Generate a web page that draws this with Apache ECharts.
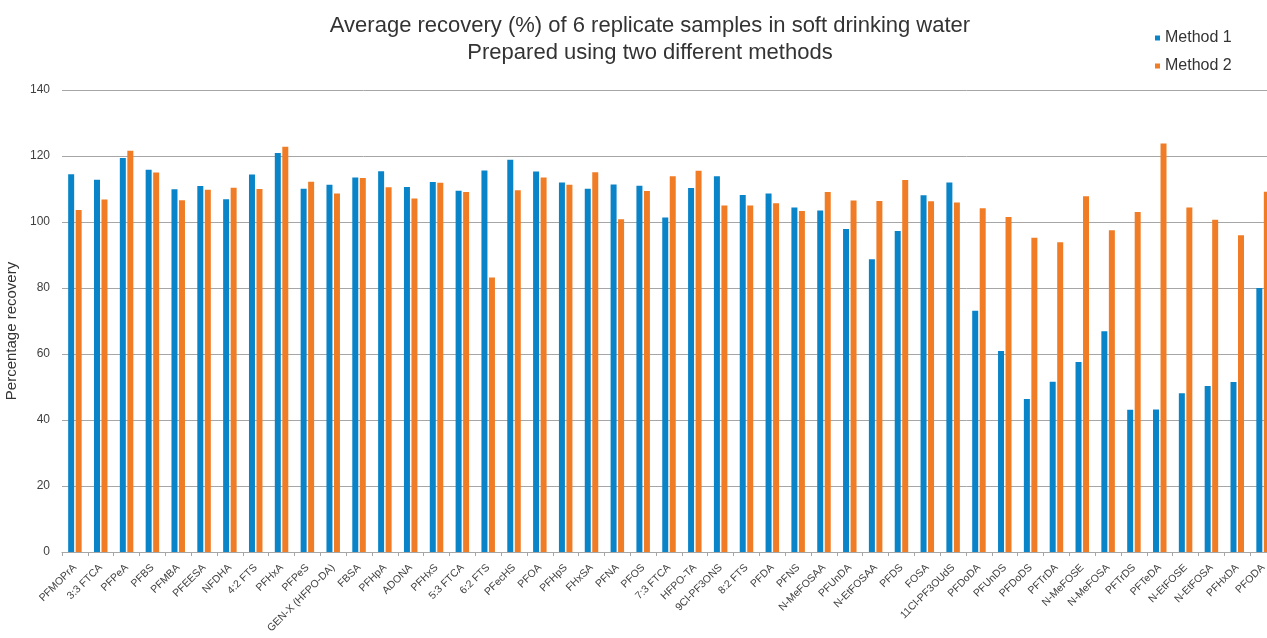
<!DOCTYPE html>
<html>
<head>
<meta charset="utf-8">
<script src="https://cdn.jsdelivr.net/npm/echarts@6/dist/echarts.min.js"></script>
<style>html,body{margin:0;padding:0;background:#fff;overflow:hidden;}#c{width:1267px;height:638px;}</style>
</head>
<body>
<div id="c"></div>
<script>
const categories = ["PFMOPrA","3:3 FTCA","PFPeA","PFBS","PFMBA","PFEESA","NFDHA","4:2 FTS","PFHxA","PFPeS","GEN-X (HFPO-DA)","FBSA","PFHpA","ADONA","PFHxS","5:3 FTCA","6:2 FTS","PFecHS","PFOA","PFHpS","FHxSA","PFNA","PFOS","7:3 FTCA","HFPO-TA","9Cl-PF3ONS","8:2 FTS","PFDA","PFNS","N-MeFOSAA","PFUnDA","N-EtFOSAA","PFDS","FOSA","11Cl-PF3OUdS","PFDoDA","PFUnDS","PFDoDS","PFTrDA","N-MeFOSE","N-MeFOSA","PFTrDS","PFTeDA","N-EtFOSE","N-EtFOSA","PFHxDA","PFODA"];
const method1 = [114.5,112.8,119.4,115.8,109.9,110.9,106.9,114.4,120.9,110.1,111.3,113.5,115.4,110.6,112.1,109.5,115.6,118.9,115.3,112.0,110.1,111.4,111.0,101.4,110.3,113.9,108.2,108.6,104.4,103.5,97.9,88.7,97.3,108.1,112.0,73.1,60.9,46.4,51.6,57.6,66.9,43.1,43.2,48.1,50.3,51.5,80.0];
const method2 = [103.6,106.8,121.6,115.0,106.6,109.8,110.4,110.0,122.8,112.2,108.6,113.3,110.5,107.1,111.9,109.1,83.2,109.6,113.5,111.3,115.1,100.8,109.4,113.9,115.5,105.0,105.0,105.7,103.3,109.1,106.5,106.4,112.7,106.3,105.9,104.2,101.5,95.2,93.9,107.8,97.5,103.0,123.8,104.4,100.7,96.0,109.2];
const seriesNames = ["Method 1","Method 2"];
const yTicks = {min:0,max:140,interval:20};

const chart = echarts.init(document.getElementById('c'), null, {renderer:'canvas'});
const font = 'Liberation Sans, Arial, sans-serif';
chart.setOption({
  animation:false,
  backgroundColor:'#fff',
  color:['#0A84C9','#F07D26'],
  title:{
    text:'Average recovery (%) of 6 replicate samples in soft drinking water\nPrepared using two different methods',
    left:645, top:7, textAlign:'center',
    textStyle:{fontFamily:font,fontSize:22,fontWeight:'normal',color:'#333333',lineHeight:27}
  },
  legend:{
    orient:'vertical', left:1150, top:24, itemGap:10,
    itemWidth:5, itemHeight:5, icon:'rect',
    textStyle:{fontFamily:font,fontSize:16,color:'#333333',lineHeight:18},
    data:seriesNames
  },
  grid:{left:62, right:-9, top:90, bottom:86, containLabel:false, outerBoundsMode:'none'},
  xAxis:{
    type:'category', data:categories,
    name:'Analtye name', nameLocation:'middle', nameGap:69,
    nameTextStyle:{fontFamily:font,fontSize:16,color:'#333333'},
    axisLine:{lineStyle:{color:'#a6a6a6',width:1}},
    axisTick:{show:true,length:4,lineStyle:{color:'#a6a6a6'}},
    axisLabel:{rotate:45,interval:0,fontFamily:font,fontSize:10.5,color:'#404040',margin:14}
  },
  yAxis:{
    type:'value', min:yTicks.min, max:yTicks.max, interval:yTicks.interval,
    name:'Percentage recovery', nameLocation:'middle', nameGap:42,
    nameTextStyle:{fontFamily:font,fontSize:15,color:'#333333',padding:[0,20,0,0]},
    axisLine:{show:false}, axisTick:{show:false},
    axisLabel:{fontFamily:font,fontSize:12,color:'#404040',margin:12},
    splitLine:{lineStyle:{color:'#a6a6a6',width:1}}
  },
  series:[
    {name:seriesNames[0],type:'bar',data:method1,barWidth:6,barGap:'25%'},
    {name:seriesNames[1],type:'bar',data:method2,barWidth:6,barGap:'25%'}
  ]
});
</script>
</body>
</html>
